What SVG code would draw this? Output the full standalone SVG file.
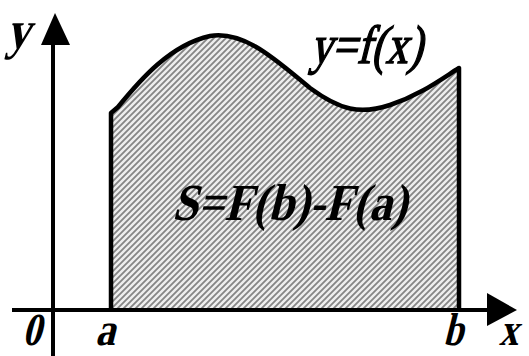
<svg xmlns="http://www.w3.org/2000/svg" width="529" height="356" viewBox="0 0 529 356">
<style>
text{font-family:"Liberation Serif","Times New Roman",serif;font-weight:700;fill:#000}
.fx{font-weight:400;stroke:#000;stroke-width:1.5}
.ax{stroke:#000;stroke-width:4;fill:none}
</style>
<defs>
<pattern id="hatch" width="6" height="6" patternUnits="userSpaceOnUse">
<rect width="6" height="6" fill="#eeeeee"/>
<path d="M-1,1 L1,-1 M0,6 L6,0 M5,7 L7,5" stroke="#858585" stroke-width="1.8"/>
</pattern>
</defs>
<rect width="529" height="356" fill="#fff"/>
<g id="area">
<path d="M111,310 L111,113 L118,107 C140,80 170,45 210,36 C245,30 278,62 310,88 C340,110 360,115 390,105 C420,95 440,80 459,68 L459,310 Z" fill="url(#hatch)" stroke="none"/>
<path d="M111,310 L111,113 L118,107 C140,80 170,45 210,36 C245,30 278,62 310,88 C340,110 360,115 390,105 C420,95 440,80 459,68 L459,310" fill="none" stroke="#000" stroke-width="4.5" stroke-linejoin="round"/>
</g>
<g id="axes">
<line class="ax" x1="53" y1="356" x2="53" y2="40"/>
<polygon points="55,13 41,45 70,45" fill="#000"/>
<line class="ax" x1="12" y1="310" x2="490" y2="310"/>
<polygon points="517,310 487,293 487,326" fill="#000"/>
</g>
<g id="labels">
<text transform="translate(6,48) skewX(-14)" font-size="54" textLength="24" lengthAdjust="spacingAndGlyphs">y</text>
<text class="fx" transform="translate(310,63) skewX(-14)" font-size="54" textLength="112" lengthAdjust="spacingAndGlyphs">y=f(x)</text>
<text transform="translate(172,220) skewX(-14)" font-size="52" textLength="235" lengthAdjust="spacingAndGlyphs">S=F(b)-F(a)</text>
<text transform="translate(22,345) skewX(-14)" font-size="46" textLength="19" lengthAdjust="spacingAndGlyphs">0</text>
<text transform="translate(95,345) skewX(-14)" font-size="46" textLength="20" lengthAdjust="spacingAndGlyphs">a</text>
<text transform="translate(443,345) skewX(-14)" font-size="46" textLength="20" lengthAdjust="spacingAndGlyphs">b</text>
<text transform="translate(499,345) skewX(-14)" font-size="46" textLength="19" lengthAdjust="spacingAndGlyphs">x</text>
</g>
</svg>
